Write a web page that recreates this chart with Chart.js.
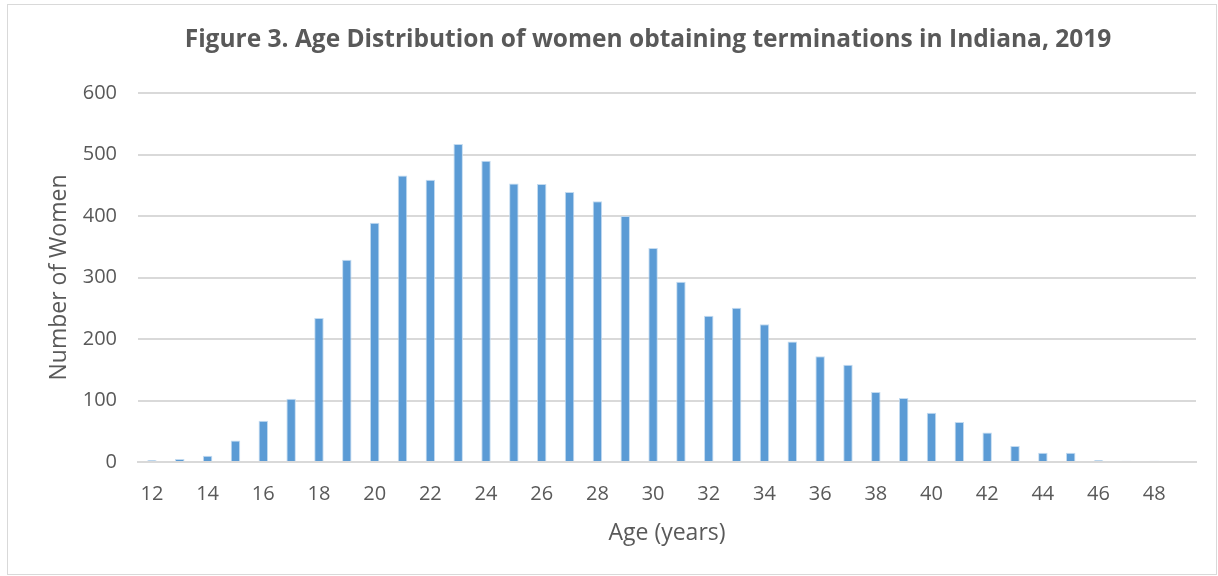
<!DOCTYPE html>
<html>
<head>
<meta charset="utf-8">
<script src="https://cdn.jsdelivr.net/npm/chart.js@4"></script>
<style>
  body { margin: 0; background: #fff; }
  #frame { position: absolute; left: 7px; top: 4px; width: 1210px; height: 571px; border: 1px solid #d9d9d9; box-sizing: border-box; }
  #wrap { position: absolute; left: 0; top: 0; width: 1218px; height: 576px; }
</style>
</head>
<body>
<div id="frame"></div>
<div id="wrap"><canvas id="ageChart"></canvas></div>
<script>
// ages 12..49 (49 has no visible bar, but the axis runs past it)
const ages = [12, 13, 14, 15, 16, 17, 18, 19, 20, 21, 22, 23, 24, 25, 26, 27, 28, 29, 30,
              31, 32, 33, 34, 35, 36, 37, 38, 39, 40, 41, 42, 43, 44, 45, 46, 47, 48, 49];
const women = [3, 5, 10, 35, 67, 103, 234, 329, 389, 466, 459, 517, 490, 453, 452, 439, 424, 400, 348,
               293, 238, 251, 224, 196, 172, 158, 114, 104, 80, 65, 48, 26, 15, 15, 3, 2, 2, 0];
const yTicks = [0, 100, 200, 300, 400, 500, 600];
const titleText = "Figure 3. Age Distribution of women obtaining terminations in Indiana, 2019";

const grey = "#595959";
const fontFamily = "'Open Sans', sans-serif";

// title is centred on the whole frame, not on the padded box, so draw it here
const frameTitle = {
    id: "frameTitle",
    afterDraw(chart) {
        const ctx = chart.ctx;
        ctx.save();
        ctx.font = "bold 24.5px " + fontFamily;
        ctx.fillStyle = grey;
        ctx.textAlign = "center";
        ctx.textBaseline = "middle";
        ctx.fillText(titleText, 648, 40);
        ctx.restore();
    }
};

new Chart(document.getElementById("ageChart"), {
    type: "bar",
    data: {
        labels: ages,
        datasets: [{
            label: "Number of Women",
            data: women,
            backgroundColor: "#5b9bd5",
            borderColor: "rgba(189, 215, 238, 0.9)",
            borderWidth: { left: 1, right: 1, top: 1, bottom: 0 },
            barPercentage: 0.34,
            categoryPercentage: 1
        }]
    },
    plugins: [frameTitle],
    options: {
        responsive: true,
        maintainAspectRatio: false,
        animation: false,
        layout: { padding: { left: 46, right: 22, top: 93, bottom: 29 } },
        plugins: {
            legend: { display: false },
            tooltip: { enabled: false },
            title: { display: false }
        },
        scales: {
            x: {
                grid: { display: false, drawTicks: false },
                border: { color: "#d9d9d9", width: 2 },
                afterFit: function (axis) { axis.height = 85; },
                ticks: {
                    autoSkip: false,
                    maxRotation: 0,
                    color: grey,
                    padding: 20,
                    font: { family: fontFamily, size: 20 },
                    callback: function (v, i) {
                        return ages[i] % 2 === 0 ? ages[i] : "";
                    }
                },
                title: {
                    display: true,
                    text: "Age (years)",
                    color: grey,
                    font: { family: fontFamily, size: 23 },
                    padding: 0
                }
            },
            y: {
                min: 0,
                max: 600,
                afterBuildTicks: function (axis) {
                    axis.ticks = yTicks.map(v => ({ value: v }));
                },
                afterFit: function (axis) { axis.width = 92; },
                grid: { color: "#d9d9d9", lineWidth: 2, drawTicks: false },
                border: { display: false },
                ticks: {
                    color: grey,
                    padding: 21,
                    font: { family: fontFamily, size: 20 }
                },
                title: {
                    display: true,
                    text: "Number of Women",
                    color: grey,
                    font: { family: fontFamily, size: 23 },
                    padding: 0
                }
            }
        }
    }
});
</script>
</body>
</html>
